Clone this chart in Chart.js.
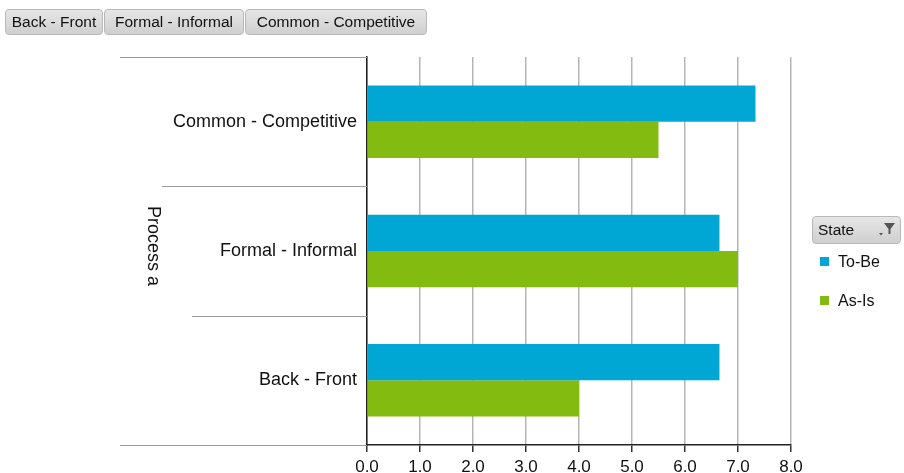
<!DOCTYPE html>
<html>
<head>
<meta charset="utf-8">
<script src="https://cdn.jsdelivr.net/npm/chart.js@4/dist/chart.umd.min.js"></script>
<style>
    body { margin: 0; width: 904px; height: 473px; background: #fff; font-family: "Liberation Sans", Arial, sans-serif; overflow: hidden; }
    #wrap { position: relative; width: 904px; height: 473px; }
    #chart { position: absolute; left: 0; top: 0; }
    .btn {
        position: absolute; top: 9px; height: 26px; box-sizing: border-box;
        border: 1px solid #b8b8b8; border-radius: 4px;
        background: linear-gradient(#e6e6e6, #cfcfcf);
        font-size: 15.5px; line-height: 24px; text-align: center; color: #111;
    }
    #state {
        position: absolute; left: 812px; top: 216px; width: 89px; height: 28px; box-sizing: border-box;
        border: 1px solid #b8b8b8; border-radius: 4px;
        background: linear-gradient(#e6e6e6, #cfcfcf);
        font-size: 15.5px; line-height: 26px; padding-left: 5px; color: #111;
    }
    #state svg { position: absolute; right: 4px; top: 5px; }
    .item { position: absolute; left: 820px; font-size: 16px; color: #111; line-height: 18px; }
    .item span { display: inline-block; width: 9px; height: 9px; margin-right: 9px; vertical-align: 1px; }
</style>
</head>
<body>
<div id="wrap">
    <canvas id="chart" width="904" height="473"></canvas>
    <div class="btn" style="left:5px;width:98px">Back - Front</div>
    <div class="btn" style="left:104px;width:140px">Formal - Informal</div>
    <div class="btn" style="left:245px;width:182px">Common - Competitive</div>
    <div id="state">State
        <svg width="18" height="16" viewBox="0 0 18 16">
            <path d="M6 1 L17 1 L12.5 7 L12.5 12 L10.5 12 L10.5 7 Z" fill="#555"/>
            <path d="M1 11 L5 11 L3 13.5 Z" fill="#555"/>
        </svg>
    </div>
    <div class="item" id="leg0" style="top:253px"><span></span>To-Be</div>
    <div class="item" id="leg1" style="top:292px"><span></span>As-Is</div>
</div>
<script>
const categories = ['Common - Competitive', 'Formal - Informal', 'Back - Front'];
const toBe = [7.33, 6.65, 6.65];
const asIs = [5.5, 7.0, 4.0];
const seriesNames = ['To-Be', 'As-Is'];
const seriesColors = ['#00a7d5', '#84bb11'];
const xTicks = [0, 1, 2, 3, 4, 5, 6, 7, 8];
const axisTitle = 'Process a';

document.querySelector('#leg0 span').style.background = seriesColors[0];
document.querySelector('#leg1 span').style.background = seriesColors[1];

// group separator lines and the rotated axis title
const extras = {
    id: 'extras',
    afterDraw(chart) {
        const ctx = chart.ctx;
        const y = chart.scales.y;
        const area = chart.chartArea;
        const starts = [120, 162, 192, 120];
        ctx.save();
        ctx.strokeStyle = '#999';
        ctx.lineWidth = 1;
        for (let i = 0; i <= categories.length; i++) {
            const py = Math.round(y.getPixelForValue(i - 0.5)) + 0.5;
            ctx.beginPath();
            ctx.moveTo(starts[i], py);
            ctx.lineTo(area.left, py);
            ctx.stroke();
        }
        ctx.translate(153, 246);
        ctx.rotate(Math.PI / 2);
        ctx.fillStyle = '#111';
        ctx.font = '18px "Liberation Sans", Arial, sans-serif';
        ctx.textAlign = 'center';
        ctx.textBaseline = 'middle';
        ctx.fillText(axisTitle, 0, 0);
        ctx.restore();
    }
};

new Chart(document.getElementById('chart').getContext('2d'), {
    type: 'bar',
    data: {
        labels: categories,
        datasets: [
            { label: seriesNames[0], data: toBe, backgroundColor: seriesColors[0] },
            { label: seriesNames[1], data: asIs, backgroundColor: seriesColors[1] }
        ]
    },
    options: {
        indexAxis: 'y',
        responsive: false,
        animation: false,
        layout: { padding: { top: 57, right: 113, left: 0, bottom: 0 } },
        datasets: { bar: { categoryPercentage: 0.56, barPercentage: 1.0 } },
        plugins: { legend: { display: false }, tooltip: { enabled: false } },
        scales: {
            x: {
                min: 0, max: 8,
                afterBuildTicks: s => { s.ticks = xTicks.map(v => ({ value: v })); },
                afterFit: s => { s.height = 28; },
                ticks: {
                    callback: v => Number(v).toFixed(1),
                    color: '#111',
                    font: { size: 17, family: '"Liberation Sans", Arial, sans-serif' },
                    padding: 5
                },
                grid: { color: '#b5b5b5', lineWidth: 1.5, tickColor: '#333', tickLength: 7 },
                border: { color: '#222', width: 1.5 }
            },
            y: {
                afterFit: s => { s.width = 367; },
                ticks: {
                    color: '#111',
                    font: { size: 18, family: '"Liberation Sans", Arial, sans-serif' },
                    padding: 2
                },
                grid: { display: false },
                border: { color: '#222', width: 1.5 }
            }
        }
    },
    plugins: [extras]
});
</script>
</body>
</html>
